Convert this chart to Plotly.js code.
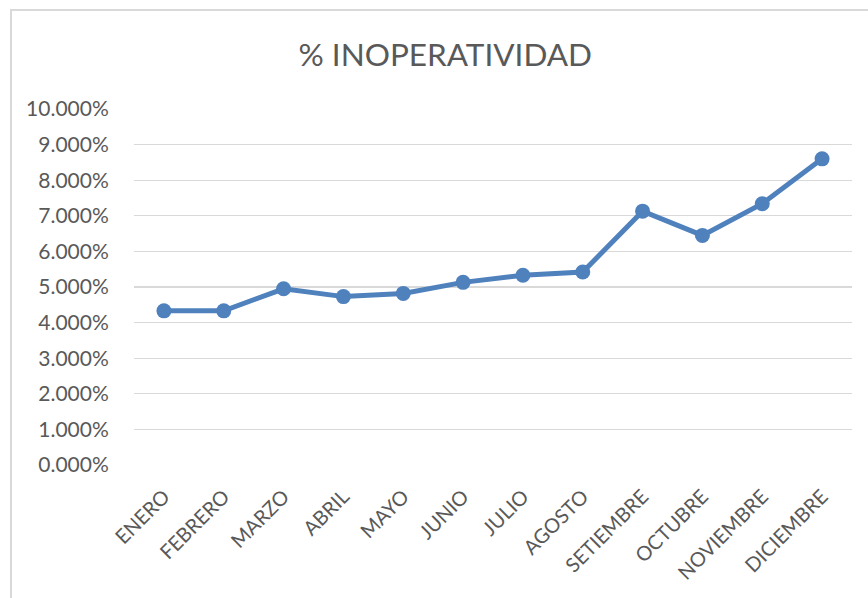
<!DOCTYPE html>
<html>
<head>
<meta charset="utf-8">
<script src="https://cdn.plot.ly/plotly-3.0.1.min.js"></script>
<style>
html,body{margin:0;padding:0;background:#fff;}
#wrap{position:relative;width:868px;height:598px;overflow:hidden;}
#frame{position:absolute;left:10px;top:9px;width:900px;height:700px;border-left:2px solid #d9d9d9;border-top:2px solid #d9d9d9;box-sizing:border-box;pointer-events:none;}
#chart{position:absolute;left:0;top:0;width:868px;height:598px;}
</style>
</head>
<body>
<div id="wrap">
<div id="chart"></div>
<div id="frame"></div>
</div>
<script>
const months = ["ENERO","FEBRERO","MARZO","ABRIL","MAYO","JUNIO","JULIO","AGOSTO","SETIEMBRE","OCTUBRE","NOVIEMBRE","DICIEMBRE"];
const inoperatividad = [0.0433,0.0433,0.0495,0.0473,0.0482,0.0513,0.0533,0.0542,0.0713,0.0645,0.0734,0.0860];
const yTicks = [0,0.01,0.02,0.03,0.04,0.05,0.06,0.07,0.08,0.09,0.10];
const chartTitle = "% INOPERATIVIDAD";

const trace = {
  x: months,
  y: inoperatividad,
  type: "scatter",
  mode: "lines+markers",
  line: {color: "#4F81BD", width: 5},
  marker: {color: "#4F81BD", size: 15},
  hoverinfo: "skip"
};

const font = "Lato, 'Open Sans', 'Liberation Sans', sans-serif";

const layout = {
  width: 868, height: 598,
  margin: {l: 134, r: 16, t: 109, b: 133},
  paper_bgcolor: "#ffffff",
  plot_bgcolor: "#ffffff",
  showlegend: false,
  font: {family: font, color: "#595959", size: 20},
  title: {
    text: chartTitle,
    font: {family: font, size: 31.5, color: "#595959"},
    x: 0.513, xanchor: "center",
    y: 0.908, yanchor: "middle",
    xref: "container", yref: "container"
  },
  xaxis: {
    type: "category",
    tickangle: -45,
    showgrid: false,
    zeroline: false,
    showline: false,
    ticks: "outside",
    ticklen: 11,
    tickcolor: "rgba(0,0,0,0)",
    tickfont: {family: font, size: 20, color: "#595959"},
    range: [-0.5, months.length - 0.5],
    fixedrange: true
  },
  yaxis: {
    range: [0, 0.10],
    tickvals: yTicks,
    tickformat: ".3%",
    showgrid: true,
    gridcolor: "#d9d9d9",
    gridwidth: 1.3,
    zeroline: false,
    showline: false,
    ticks: "outside",
    ticklen: 20,
    tickcolor: "rgba(0,0,0,0)",
    tickfont: {family: font, size: 21, color: "#595959"},
    fixedrange: true
  }
};

Plotly.newPlot("chart", [trace], layout, {displayModeBar: false, staticPlot: true});
</script>
</body>
</html>
